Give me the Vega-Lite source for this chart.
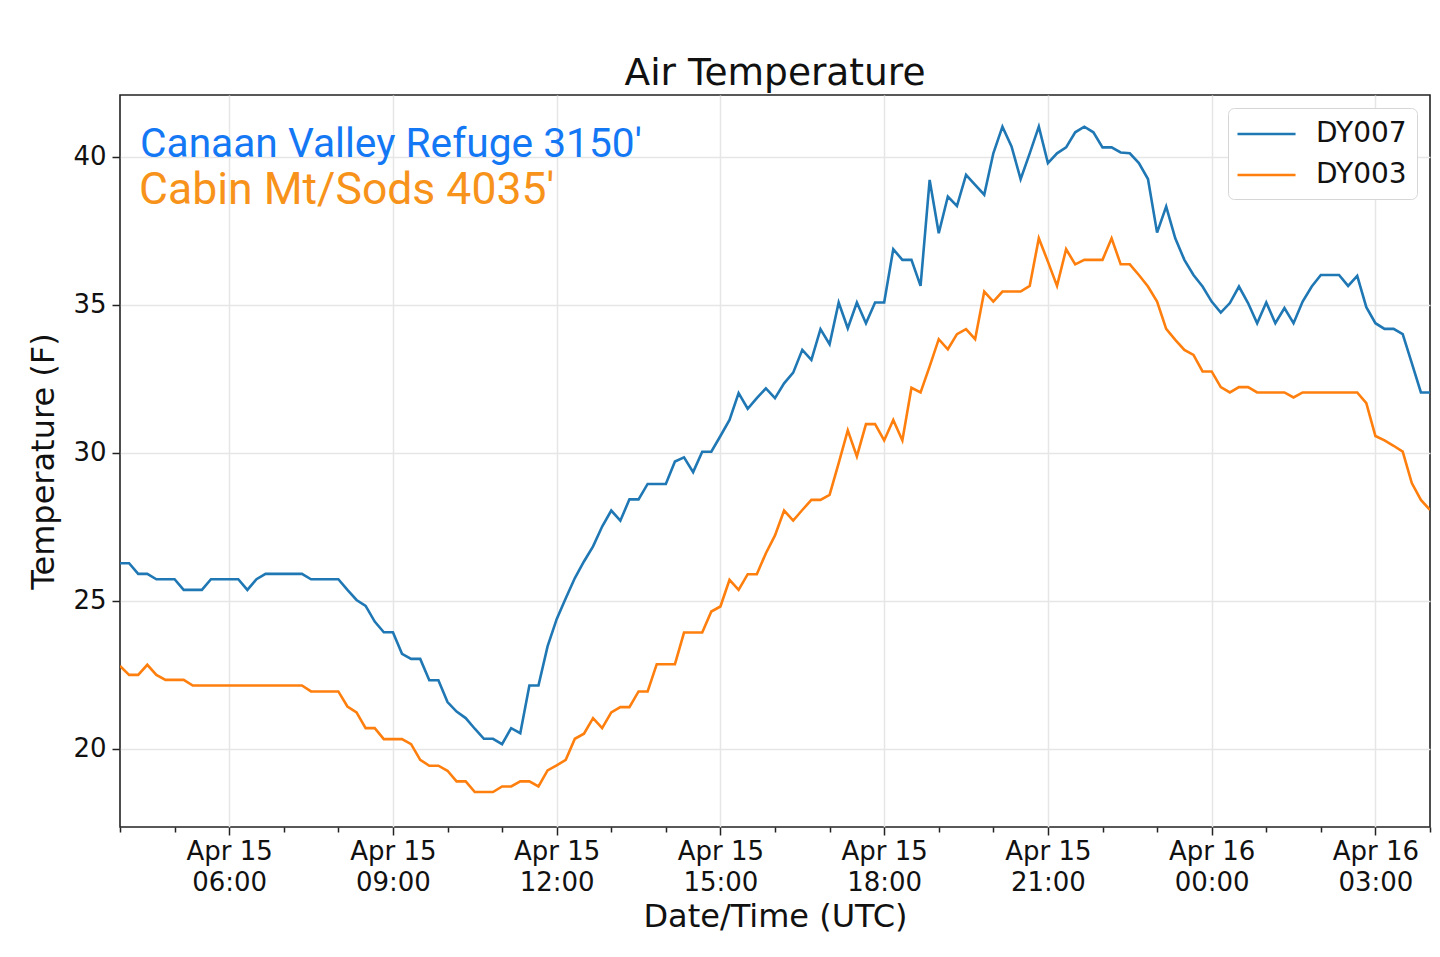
{
  "$schema": "https://vega.github.io/schema/vega-lite/v6.json",
  "width": 1310,
  "height": 732,
  "autosize": {"type": "none"},
  "padding": {"left": 120, "top": 95, "right": 10, "bottom": 130},
  "background": "white",
  "title": {
    "text": "Air Temperature",
    "font": "DejaVu Sans",
    "fontSize": 37.5,
    "fontWeight": "normal",
    "color": "#111111",
    "anchor": "middle",
    "offset": 3
  },
  "config": {
    "view": {"stroke": "#222222", "strokeWidth": 1.6},
    "axis": {
      "domain": false,
      "labelFont": "DejaVu Sans",
      "labelFontSize": 26,
      "labelColor": "#111111",
      "titleFont": "DejaVu Sans",
      "titleFontSize": 32,
      "titleFontWeight": "normal",
      "titleColor": "#111111",
      "tickColor": "#222222",
      "tickWidth": 1.5,
      "gridColor": "#e6e6e6",
      "gridWidth": 1.5
    },
    "legend": {
      "orient": "top-right",
      "offset": 13,
      "padding": 9.5,
      "fillColor": "white",
      "strokeColor": "#d6d6d6",
      "cornerRadius": 6,
      "symbolType": "M-1.1,0L2.77,0",
      "symbolSize": 900,
      "symbolStrokeWidth": 2.6,
      "labelFont": "DejaVu Sans",
      "labelFontSize": 28,
      "labelColor": "#111111",
      "labelOffset": 45.5,
      "rowPadding": 10
    }
  },
  "datasets": {
    "temps": [
      {"t": "2020-04-15T04:00Z", "s": "DY007", "v": 26.27},
      {"t": "2020-04-15T04:10Z", "s": "DY007", "v": 26.27},
      {"t": "2020-04-15T04:20Z", "s": "DY007", "v": 25.91},
      {"t": "2020-04-15T04:30Z", "s": "DY007", "v": 25.91},
      {"t": "2020-04-15T04:40Z", "s": "DY007", "v": 25.73},
      {"t": "2020-04-15T04:50Z", "s": "DY007", "v": 25.73},
      {"t": "2020-04-15T05:00Z", "s": "DY007", "v": 25.73},
      {"t": "2020-04-15T05:10Z", "s": "DY007", "v": 25.37},
      {"t": "2020-04-15T05:20Z", "s": "DY007", "v": 25.37},
      {"t": "2020-04-15T05:30Z", "s": "DY007", "v": 25.37},
      {"t": "2020-04-15T05:40Z", "s": "DY007", "v": 25.73},
      {"t": "2020-04-15T05:50Z", "s": "DY007", "v": 25.73},
      {"t": "2020-04-15T06:00Z", "s": "DY007", "v": 25.73},
      {"t": "2020-04-15T06:10Z", "s": "DY007", "v": 25.73},
      {"t": "2020-04-15T06:20Z", "s": "DY007", "v": 25.37},
      {"t": "2020-04-15T06:30Z", "s": "DY007", "v": 25.73},
      {"t": "2020-04-15T06:40Z", "s": "DY007", "v": 25.91},
      {"t": "2020-04-15T06:50Z", "s": "DY007", "v": 25.91},
      {"t": "2020-04-15T07:00Z", "s": "DY007", "v": 25.91},
      {"t": "2020-04-15T07:10Z", "s": "DY007", "v": 25.91},
      {"t": "2020-04-15T07:20Z", "s": "DY007", "v": 25.91},
      {"t": "2020-04-15T07:30Z", "s": "DY007", "v": 25.73},
      {"t": "2020-04-15T07:40Z", "s": "DY007", "v": 25.73},
      {"t": "2020-04-15T07:50Z", "s": "DY007", "v": 25.73},
      {"t": "2020-04-15T08:00Z", "s": "DY007", "v": 25.73},
      {"t": "2020-04-15T08:10Z", "s": "DY007", "v": 25.37},
      {"t": "2020-04-15T08:20Z", "s": "DY007", "v": 25.03},
      {"t": "2020-04-15T08:30Z", "s": "DY007", "v": 24.83},
      {"t": "2020-04-15T08:40Z", "s": "DY007", "v": 24.30},
      {"t": "2020-04-15T08:50Z", "s": "DY007", "v": 23.94},
      {"t": "2020-04-15T09:00Z", "s": "DY007", "v": 23.94},
      {"t": "2020-04-15T09:10Z", "s": "DY007", "v": 23.21},
      {"t": "2020-04-15T09:20Z", "s": "DY007", "v": 23.04},
      {"t": "2020-04-15T09:30Z", "s": "DY007", "v": 23.04},
      {"t": "2020-04-15T09:40Z", "s": "DY007", "v": 22.32},
      {"t": "2020-04-15T09:50Z", "s": "DY007", "v": 22.32},
      {"t": "2020-04-15T10:00Z", "s": "DY007", "v": 21.58},
      {"t": "2020-04-15T10:10Z", "s": "DY007", "v": 21.26},
      {"t": "2020-04-15T10:20Z", "s": "DY007", "v": 21.04},
      {"t": "2020-04-15T10:30Z", "s": "DY007", "v": 20.68},
      {"t": "2020-04-15T10:40Z", "s": "DY007", "v": 20.34},
      {"t": "2020-04-15T10:50Z", "s": "DY007", "v": 20.34},
      {"t": "2020-04-15T11:00Z", "s": "DY007", "v": 20.16},
      {"t": "2020-04-15T11:10Z", "s": "DY007", "v": 20.70},
      {"t": "2020-04-15T11:20Z", "s": "DY007", "v": 20.53},
      {"t": "2020-04-15T11:30Z", "s": "DY007", "v": 22.14},
      {"t": "2020-04-15T11:40Z", "s": "DY007", "v": 22.14},
      {"t": "2020-04-15T11:50Z", "s": "DY007", "v": 23.46},
      {"t": "2020-04-15T12:00Z", "s": "DY007", "v": 24.38},
      {"t": "2020-04-15T12:10Z", "s": "DY007", "v": 25.09},
      {"t": "2020-04-15T12:20Z", "s": "DY007", "v": 25.77},
      {"t": "2020-04-15T12:30Z", "s": "DY007", "v": 26.33},
      {"t": "2020-04-15T12:40Z", "s": "DY007", "v": 26.84},
      {"t": "2020-04-15T12:50Z", "s": "DY007", "v": 27.51},
      {"t": "2020-04-15T13:00Z", "s": "DY007", "v": 28.05},
      {"t": "2020-04-15T13:10Z", "s": "DY007", "v": 27.71},
      {"t": "2020-04-15T13:20Z", "s": "DY007", "v": 28.43},
      {"t": "2020-04-15T13:30Z", "s": "DY007", "v": 28.43},
      {"t": "2020-04-15T13:40Z", "s": "DY007", "v": 28.95},
      {"t": "2020-04-15T13:50Z", "s": "DY007", "v": 28.95},
      {"t": "2020-04-15T14:00Z", "s": "DY007", "v": 28.95},
      {"t": "2020-04-15T14:10Z", "s": "DY007", "v": 29.71},
      {"t": "2020-04-15T14:20Z", "s": "DY007", "v": 29.85},
      {"t": "2020-04-15T14:30Z", "s": "DY007", "v": 29.35},
      {"t": "2020-04-15T14:40Z", "s": "DY007", "v": 30.04},
      {"t": "2020-04-15T14:50Z", "s": "DY007", "v": 30.04},
      {"t": "2020-04-15T15:00Z", "s": "DY007", "v": 30.57},
      {"t": "2020-04-15T15:10Z", "s": "DY007", "v": 31.11},
      {"t": "2020-04-15T15:20Z", "s": "DY007", "v": 32.02},
      {"t": "2020-04-15T15:30Z", "s": "DY007", "v": 31.49},
      {"t": "2020-04-15T15:40Z", "s": "DY007", "v": 31.85},
      {"t": "2020-04-15T15:50Z", "s": "DY007", "v": 32.18},
      {"t": "2020-04-15T16:00Z", "s": "DY007", "v": 31.85},
      {"t": "2020-04-15T16:10Z", "s": "DY007", "v": 32.35},
      {"t": "2020-04-15T16:20Z", "s": "DY007", "v": 32.71},
      {"t": "2020-04-15T16:30Z", "s": "DY007", "v": 33.48},
      {"t": "2020-04-15T16:40Z", "s": "DY007", "v": 33.14},
      {"t": "2020-04-15T16:50Z", "s": "DY007", "v": 34.18},
      {"t": "2020-04-15T17:00Z", "s": "DY007", "v": 33.67},
      {"t": "2020-04-15T17:10Z", "s": "DY007", "v": 35.08},
      {"t": "2020-04-15T17:20Z", "s": "DY007", "v": 34.21},
      {"t": "2020-04-15T17:30Z", "s": "DY007", "v": 35.08},
      {"t": "2020-04-15T17:40Z", "s": "DY007", "v": 34.38},
      {"t": "2020-04-15T17:50Z", "s": "DY007", "v": 35.08},
      {"t": "2020-04-15T18:00Z", "s": "DY007", "v": 35.08},
      {"t": "2020-04-15T18:10Z", "s": "DY007", "v": 36.88},
      {"t": "2020-04-15T18:20Z", "s": "DY007", "v": 36.52},
      {"t": "2020-04-15T18:30Z", "s": "DY007", "v": 36.52},
      {"t": "2020-04-15T18:40Z", "s": "DY007", "v": 35.64},
      {"t": "2020-04-15T18:50Z", "s": "DY007", "v": 39.22},
      {"t": "2020-04-15T19:00Z", "s": "DY007", "v": 37.42},
      {"t": "2020-04-15T19:10Z", "s": "DY007", "v": 38.66},
      {"t": "2020-04-15T19:20Z", "s": "DY007", "v": 38.34},
      {"t": "2020-04-15T19:30Z", "s": "DY007", "v": 39.39},
      {"t": "2020-04-15T19:40Z", "s": "DY007", "v": 39.05},
      {"t": "2020-04-15T19:50Z", "s": "DY007", "v": 38.72},
      {"t": "2020-04-15T20:00Z", "s": "DY007", "v": 40.12},
      {"t": "2020-04-15T20:10Z", "s": "DY007", "v": 41.02},
      {"t": "2020-04-15T20:20Z", "s": "DY007", "v": 40.35},
      {"t": "2020-04-15T20:30Z", "s": "DY007", "v": 39.25},
      {"t": "2020-04-15T20:40Z", "s": "DY007", "v": 40.12},
      {"t": "2020-04-15T20:50Z", "s": "DY007", "v": 41.02},
      {"t": "2020-04-15T21:00Z", "s": "DY007", "v": 39.79},
      {"t": "2020-04-15T21:10Z", "s": "DY007", "v": 40.12},
      {"t": "2020-04-15T21:20Z", "s": "DY007", "v": 40.32},
      {"t": "2020-04-15T21:30Z", "s": "DY007", "v": 40.83},
      {"t": "2020-04-15T21:40Z", "s": "DY007", "v": 41.02},
      {"t": "2020-04-15T21:50Z", "s": "DY007", "v": 40.83},
      {"t": "2020-04-15T22:00Z", "s": "DY007", "v": 40.32},
      {"t": "2020-04-15T22:10Z", "s": "DY007", "v": 40.32},
      {"t": "2020-04-15T22:20Z", "s": "DY007", "v": 40.15},
      {"t": "2020-04-15T22:30Z", "s": "DY007", "v": 40.12},
      {"t": "2020-04-15T22:40Z", "s": "DY007", "v": 39.79},
      {"t": "2020-04-15T22:50Z", "s": "DY007", "v": 39.25},
      {"t": "2020-04-15T23:00Z", "s": "DY007", "v": 37.44},
      {"t": "2020-04-15T23:10Z", "s": "DY007", "v": 38.32},
      {"t": "2020-04-15T23:20Z", "s": "DY007", "v": 37.25},
      {"t": "2020-04-15T23:30Z", "s": "DY007", "v": 36.52},
      {"t": "2020-04-15T23:40Z", "s": "DY007", "v": 36.01},
      {"t": "2020-04-15T23:50Z", "s": "DY007", "v": 35.62},
      {"t": "2020-04-16T00:00Z", "s": "DY007", "v": 35.11},
      {"t": "2020-04-16T00:10Z", "s": "DY007", "v": 34.74},
      {"t": "2020-04-16T00:20Z", "s": "DY007", "v": 35.06},
      {"t": "2020-04-16T00:30Z", "s": "DY007", "v": 35.62},
      {"t": "2020-04-16T00:40Z", "s": "DY007", "v": 35.06},
      {"t": "2020-04-16T00:50Z", "s": "DY007", "v": 34.38},
      {"t": "2020-04-16T01:00Z", "s": "DY007", "v": 35.08},
      {"t": "2020-04-16T01:10Z", "s": "DY007", "v": 34.38},
      {"t": "2020-04-16T01:20Z", "s": "DY007", "v": 34.89},
      {"t": "2020-04-16T01:30Z", "s": "DY007", "v": 34.38},
      {"t": "2020-04-16T01:40Z", "s": "DY007", "v": 35.11},
      {"t": "2020-04-16T01:50Z", "s": "DY007", "v": 35.62},
      {"t": "2020-04-16T02:00Z", "s": "DY007", "v": 36.01},
      {"t": "2020-04-16T02:10Z", "s": "DY007", "v": 36.01},
      {"t": "2020-04-16T02:20Z", "s": "DY007", "v": 36.01},
      {"t": "2020-04-16T02:30Z", "s": "DY007", "v": 35.64},
      {"t": "2020-04-16T02:40Z", "s": "DY007", "v": 35.98},
      {"t": "2020-04-16T02:50Z", "s": "DY007", "v": 34.92},
      {"t": "2020-04-16T03:00Z", "s": "DY007", "v": 34.38},
      {"t": "2020-04-16T03:10Z", "s": "DY007", "v": 34.19},
      {"t": "2020-04-16T03:20Z", "s": "DY007", "v": 34.19},
      {"t": "2020-04-16T03:30Z", "s": "DY007", "v": 34.01},
      {"t": "2020-04-16T03:40Z", "s": "DY007", "v": 33.03},
      {"t": "2020-04-16T03:50Z", "s": "DY007", "v": 32.04},
      {"t": "2020-04-16T04:00Z", "s": "DY007", "v": 32.04},
      {"t": "2020-04-15T04:00Z", "s": "DY003", "v": 22.80},
      {"t": "2020-04-15T04:10Z", "s": "DY003", "v": 22.50},
      {"t": "2020-04-15T04:20Z", "s": "DY003", "v": 22.50},
      {"t": "2020-04-15T04:30Z", "s": "DY003", "v": 22.84},
      {"t": "2020-04-15T04:40Z", "s": "DY003", "v": 22.50},
      {"t": "2020-04-15T04:50Z", "s": "DY003", "v": 22.33},
      {"t": "2020-04-15T05:00Z", "s": "DY003", "v": 22.33},
      {"t": "2020-04-15T05:10Z", "s": "DY003", "v": 22.33},
      {"t": "2020-04-15T05:20Z", "s": "DY003", "v": 22.14},
      {"t": "2020-04-15T05:30Z", "s": "DY003", "v": 22.14},
      {"t": "2020-04-15T05:40Z", "s": "DY003", "v": 22.14},
      {"t": "2020-04-15T05:50Z", "s": "DY003", "v": 22.14},
      {"t": "2020-04-15T06:00Z", "s": "DY003", "v": 22.14},
      {"t": "2020-04-15T06:10Z", "s": "DY003", "v": 22.14},
      {"t": "2020-04-15T06:20Z", "s": "DY003", "v": 22.14},
      {"t": "2020-04-15T06:30Z", "s": "DY003", "v": 22.14},
      {"t": "2020-04-15T06:40Z", "s": "DY003", "v": 22.14},
      {"t": "2020-04-15T06:50Z", "s": "DY003", "v": 22.14},
      {"t": "2020-04-15T07:00Z", "s": "DY003", "v": 22.14},
      {"t": "2020-04-15T07:10Z", "s": "DY003", "v": 22.14},
      {"t": "2020-04-15T07:20Z", "s": "DY003", "v": 22.14},
      {"t": "2020-04-15T07:30Z", "s": "DY003", "v": 21.94},
      {"t": "2020-04-15T07:40Z", "s": "DY003", "v": 21.94},
      {"t": "2020-04-15T07:50Z", "s": "DY003", "v": 21.94},
      {"t": "2020-04-15T08:00Z", "s": "DY003", "v": 21.94},
      {"t": "2020-04-15T08:10Z", "s": "DY003", "v": 21.43},
      {"t": "2020-04-15T08:20Z", "s": "DY003", "v": 21.23},
      {"t": "2020-04-15T08:30Z", "s": "DY003", "v": 20.70},
      {"t": "2020-04-15T08:40Z", "s": "DY003", "v": 20.70},
      {"t": "2020-04-15T08:50Z", "s": "DY003", "v": 20.33},
      {"t": "2020-04-15T09:00Z", "s": "DY003", "v": 20.33},
      {"t": "2020-04-15T09:10Z", "s": "DY003", "v": 20.33},
      {"t": "2020-04-15T09:20Z", "s": "DY003", "v": 20.16},
      {"t": "2020-04-15T09:30Z", "s": "DY003", "v": 19.63},
      {"t": "2020-04-15T09:40Z", "s": "DY003", "v": 19.43},
      {"t": "2020-04-15T09:50Z", "s": "DY003", "v": 19.43},
      {"t": "2020-04-15T10:00Z", "s": "DY003", "v": 19.26},
      {"t": "2020-04-15T10:10Z", "s": "DY003", "v": 18.90},
      {"t": "2020-04-15T10:20Z", "s": "DY003", "v": 18.90},
      {"t": "2020-04-15T10:30Z", "s": "DY003", "v": 18.54},
      {"t": "2020-04-15T10:40Z", "s": "DY003", "v": 18.54},
      {"t": "2020-04-15T10:50Z", "s": "DY003", "v": 18.54},
      {"t": "2020-04-15T11:00Z", "s": "DY003", "v": 18.73},
      {"t": "2020-04-15T11:10Z", "s": "DY003", "v": 18.73},
      {"t": "2020-04-15T11:20Z", "s": "DY003", "v": 18.90},
      {"t": "2020-04-15T11:30Z", "s": "DY003", "v": 18.90},
      {"t": "2020-04-15T11:40Z", "s": "DY003", "v": 18.73},
      {"t": "2020-04-15T11:50Z", "s": "DY003", "v": 19.27},
      {"t": "2020-04-15T12:00Z", "s": "DY003", "v": 19.44},
      {"t": "2020-04-15T12:10Z", "s": "DY003", "v": 19.63},
      {"t": "2020-04-15T12:20Z", "s": "DY003", "v": 20.34},
      {"t": "2020-04-15T12:30Z", "s": "DY003", "v": 20.51},
      {"t": "2020-04-15T12:40Z", "s": "DY003", "v": 21.04},
      {"t": "2020-04-15T12:50Z", "s": "DY003", "v": 20.70},
      {"t": "2020-04-15T13:00Z", "s": "DY003", "v": 21.23},
      {"t": "2020-04-15T13:10Z", "s": "DY003", "v": 21.41},
      {"t": "2020-04-15T13:20Z", "s": "DY003", "v": 21.41},
      {"t": "2020-04-15T13:30Z", "s": "DY003", "v": 21.94},
      {"t": "2020-04-15T13:40Z", "s": "DY003", "v": 21.94},
      {"t": "2020-04-15T13:50Z", "s": "DY003", "v": 22.86},
      {"t": "2020-04-15T14:00Z", "s": "DY003", "v": 22.86},
      {"t": "2020-04-15T14:10Z", "s": "DY003", "v": 22.86},
      {"t": "2020-04-15T14:20Z", "s": "DY003", "v": 23.93},
      {"t": "2020-04-15T14:30Z", "s": "DY003", "v": 23.93},
      {"t": "2020-04-15T14:40Z", "s": "DY003", "v": 23.93},
      {"t": "2020-04-15T14:50Z", "s": "DY003", "v": 24.64},
      {"t": "2020-04-15T15:00Z", "s": "DY003", "v": 24.81},
      {"t": "2020-04-15T15:10Z", "s": "DY003", "v": 25.71},
      {"t": "2020-04-15T15:20Z", "s": "DY003", "v": 25.37},
      {"t": "2020-04-15T15:30Z", "s": "DY003", "v": 25.90},
      {"t": "2020-04-15T15:40Z", "s": "DY003", "v": 25.90},
      {"t": "2020-04-15T15:50Z", "s": "DY003", "v": 26.61},
      {"t": "2020-04-15T16:00Z", "s": "DY003", "v": 27.21},
      {"t": "2020-04-15T16:10Z", "s": "DY003", "v": 28.05},
      {"t": "2020-04-15T16:20Z", "s": "DY003", "v": 27.71},
      {"t": "2020-04-15T16:30Z", "s": "DY003", "v": 28.07},
      {"t": "2020-04-15T16:40Z", "s": "DY003", "v": 28.41},
      {"t": "2020-04-15T16:50Z", "s": "DY003", "v": 28.41},
      {"t": "2020-04-15T17:00Z", "s": "DY003", "v": 28.58},
      {"t": "2020-04-15T17:10Z", "s": "DY003", "v": 29.65},
      {"t": "2020-04-15T17:20Z", "s": "DY003", "v": 30.76},
      {"t": "2020-04-15T17:30Z", "s": "DY003", "v": 29.88},
      {"t": "2020-04-15T17:40Z", "s": "DY003", "v": 30.97},
      {"t": "2020-04-15T17:50Z", "s": "DY003", "v": 30.97},
      {"t": "2020-04-15T18:00Z", "s": "DY003", "v": 30.42},
      {"t": "2020-04-15T18:10Z", "s": "DY003", "v": 31.11},
      {"t": "2020-04-15T18:20Z", "s": "DY003", "v": 30.42},
      {"t": "2020-04-15T18:30Z", "s": "DY003", "v": 32.20},
      {"t": "2020-04-15T18:40Z", "s": "DY003", "v": 32.04},
      {"t": "2020-04-15T18:50Z", "s": "DY003", "v": 32.92},
      {"t": "2020-04-15T19:00Z", "s": "DY003", "v": 33.84},
      {"t": "2020-04-15T19:10Z", "s": "DY003", "v": 33.50},
      {"t": "2020-04-15T19:20Z", "s": "DY003", "v": 34.01},
      {"t": "2020-04-15T19:30Z", "s": "DY003", "v": 34.18},
      {"t": "2020-04-15T19:40Z", "s": "DY003", "v": 33.84},
      {"t": "2020-04-15T19:50Z", "s": "DY003", "v": 35.45},
      {"t": "2020-04-15T20:00Z", "s": "DY003", "v": 35.11},
      {"t": "2020-04-15T20:10Z", "s": "DY003", "v": 35.45},
      {"t": "2020-04-15T20:20Z", "s": "DY003", "v": 35.45},
      {"t": "2020-04-15T20:30Z", "s": "DY003", "v": 35.45},
      {"t": "2020-04-15T20:40Z", "s": "DY003", "v": 35.64},
      {"t": "2020-04-15T20:50Z", "s": "DY003", "v": 37.25},
      {"t": "2020-04-15T21:00Z", "s": "DY003", "v": 36.46},
      {"t": "2020-04-15T21:10Z", "s": "DY003", "v": 35.64},
      {"t": "2020-04-15T21:20Z", "s": "DY003", "v": 36.88},
      {"t": "2020-04-15T21:30Z", "s": "DY003", "v": 36.37},
      {"t": "2020-04-15T21:40Z", "s": "DY003", "v": 36.52},
      {"t": "2020-04-15T21:50Z", "s": "DY003", "v": 36.52},
      {"t": "2020-04-15T22:00Z", "s": "DY003", "v": 36.52},
      {"t": "2020-04-15T22:10Z", "s": "DY003", "v": 37.25},
      {"t": "2020-04-15T22:20Z", "s": "DY003", "v": 36.37},
      {"t": "2020-04-15T22:30Z", "s": "DY003", "v": 36.37},
      {"t": "2020-04-15T22:40Z", "s": "DY003", "v": 36.01},
      {"t": "2020-04-15T22:50Z", "s": "DY003", "v": 35.62},
      {"t": "2020-04-15T23:00Z", "s": "DY003", "v": 35.11},
      {"t": "2020-04-15T23:10Z", "s": "DY003", "v": 34.19},
      {"t": "2020-04-15T23:20Z", "s": "DY003", "v": 33.82},
      {"t": "2020-04-15T23:30Z", "s": "DY003", "v": 33.48},
      {"t": "2020-04-15T23:40Z", "s": "DY003", "v": 33.31},
      {"t": "2020-04-15T23:50Z", "s": "DY003", "v": 32.75},
      {"t": "2020-04-16T00:00Z", "s": "DY003", "v": 32.75},
      {"t": "2020-04-16T00:10Z", "s": "DY003", "v": 32.22},
      {"t": "2020-04-16T00:20Z", "s": "DY003", "v": 32.04},
      {"t": "2020-04-16T00:30Z", "s": "DY003", "v": 32.22},
      {"t": "2020-04-16T00:40Z", "s": "DY003", "v": 32.22},
      {"t": "2020-04-16T00:50Z", "s": "DY003", "v": 32.04},
      {"t": "2020-04-16T01:00Z", "s": "DY003", "v": 32.04},
      {"t": "2020-04-16T01:10Z", "s": "DY003", "v": 32.04},
      {"t": "2020-04-16T01:20Z", "s": "DY003", "v": 32.04},
      {"t": "2020-04-16T01:30Z", "s": "DY003", "v": 31.87},
      {"t": "2020-04-16T01:40Z", "s": "DY003", "v": 32.04},
      {"t": "2020-04-16T01:50Z", "s": "DY003", "v": 32.04},
      {"t": "2020-04-16T02:00Z", "s": "DY003", "v": 32.04},
      {"t": "2020-04-16T02:10Z", "s": "DY003", "v": 32.04},
      {"t": "2020-04-16T02:20Z", "s": "DY003", "v": 32.04},
      {"t": "2020-04-16T02:30Z", "s": "DY003", "v": 32.04},
      {"t": "2020-04-16T02:40Z", "s": "DY003", "v": 32.04},
      {"t": "2020-04-16T02:50Z", "s": "DY003", "v": 31.68},
      {"t": "2020-04-16T03:00Z", "s": "DY003", "v": 30.57},
      {"t": "2020-04-16T03:10Z", "s": "DY003", "v": 30.42},
      {"t": "2020-04-16T03:20Z", "s": "DY003", "v": 30.24},
      {"t": "2020-04-16T03:30Z", "s": "DY003", "v": 30.04},
      {"t": "2020-04-16T03:40Z", "s": "DY003", "v": 28.98},
      {"t": "2020-04-16T03:50Z", "s": "DY003", "v": 28.41},
      {"t": "2020-04-16T04:00Z", "s": "DY003", "v": 28.07}
    ],
    "notes": [
      {"t": "2020-04-15T04:22Z", "s": "DY007", "v": 40.0, "label": "Canaan Valley Refuge 3150'"},
      {"t": "2020-04-15T04:21Z", "s": "DY003", "v": 38.42, "label": "Cabin Mt/Sods 4035'"}
    ]
  },
  "encoding": {
    "y": {
      "field": "v",
      "type": "quantitative",
      "scale": {"domain": [17.36, 42.09], "nice": false, "zero": false},
      "axis": {
        "title": "Temperature (F)",
        "values": [20, 25, 30, 35, 40],
        "tickSize": 8,
        "labelPadding": 6,
        "titlePadding": 12,
        "grid": true
      }
    }
  },
  "layer": [
    {
      "data": {"name": "temps"},
      "mark": {"type": "line", "strokeWidth": 2.6, "clip": true},
      "encoding": {
        "x": {
          "field": "t",
          "type": "temporal",
          "scale": {
            "type": "utc",
            "domain": [
              {"year": 2020, "month": 4, "date": 15, "hours": 4, "utc": true},
              {"year": 2020, "month": 4, "date": 16, "hours": 4, "utc": true}
            ]
          },
          "axis": {
            "orient": "bottom",
            "title": "Date/Time (UTC)",
            "values": [
              {"year": 2020, "month": 4, "date": 15, "hours": 6, "utc": true},
              {"year": 2020, "month": 4, "date": 15, "hours": 9, "utc": true},
              {"year": 2020, "month": 4, "date": 15, "hours": 12, "utc": true},
              {"year": 2020, "month": 4, "date": 15, "hours": 15, "utc": true},
              {"year": 2020, "month": 4, "date": 15, "hours": 18, "utc": true},
              {"year": 2020, "month": 4, "date": 15, "hours": 21, "utc": true},
              {"year": 2020, "month": 4, "date": 16, "hours": 0, "utc": true},
              {"year": 2020, "month": 4, "date": 16, "hours": 3, "utc": true}
            ],
            "labelExpr": "[utcFormat(datum.value, '%b %d'), utcFormat(datum.value, '%H:%M')]",
            "labelLineHeight": 31,
            "labelPadding": 3,
            "tickSize": 8,
            "grid": true,
            "titlePadding": 6
          }
        },
        "color": {
          "field": "s",
          "type": "nominal",
          "sort": ["DY007", "DY003"],
          "scale": {"domain": ["DY007", "DY003"], "range": ["#1f77b4", "#ff7f0e"]},
          "legend": {"title": null}
        }
      }
    },
    {
      "data": {"name": "notes"},
      "mark": {"type": "text", "align": "left", "baseline": "alphabetic", "font": "Roboto"},
      "encoding": {
        "x": {
          "field": "t",
          "type": "temporal",
          "scale": {
            "type": "utc",
            "domain": [
              {"year": 2020, "month": 4, "date": 15, "hours": 4, "utc": true},
              {"year": 2020, "month": 4, "date": 16, "hours": 4, "utc": true}
            ]
          },
          "axis": {
            "orient": "bottom",
            "offset": 0,
            "title": null,
            "labels": false,
            "grid": false,
            "tickSize": 5,
            "values": [
              {"year": 2020, "month": 4, "date": 15, "hours": 4, "utc": true},
              {"year": 2020, "month": 4, "date": 15, "hours": 5, "utc": true},
              {"year": 2020, "month": 4, "date": 15, "hours": 7, "utc": true},
              {"year": 2020, "month": 4, "date": 15, "hours": 8, "utc": true},
              {"year": 2020, "month": 4, "date": 15, "hours": 10, "utc": true},
              {"year": 2020, "month": 4, "date": 15, "hours": 11, "utc": true},
              {"year": 2020, "month": 4, "date": 15, "hours": 13, "utc": true},
              {"year": 2020, "month": 4, "date": 15, "hours": 14, "utc": true},
              {"year": 2020, "month": 4, "date": 15, "hours": 16, "utc": true},
              {"year": 2020, "month": 4, "date": 15, "hours": 17, "utc": true},
              {"year": 2020, "month": 4, "date": 15, "hours": 19, "utc": true},
              {"year": 2020, "month": 4, "date": 15, "hours": 20, "utc": true},
              {"year": 2020, "month": 4, "date": 15, "hours": 22, "utc": true},
              {"year": 2020, "month": 4, "date": 15, "hours": 23, "utc": true},
              {"year": 2020, "month": 4, "date": 16, "hours": 1, "utc": true},
              {"year": 2020, "month": 4, "date": 16, "hours": 2, "utc": true},
              {"year": 2020, "month": 4, "date": 16, "hours": 4, "utc": true}
            ]
          }
        },
        "text": {"field": "label"},
        "color": {
          "field": "s",
          "type": "nominal",
          "scale": {"domain": ["DY007", "DY003"], "range": ["#1478f5", "#f7931a"]},
          "legend": null
        },
        "size": {
          "field": "s",
          "type": "nominal",
          "scale": {"domain": ["DY007", "DY003"], "range": [40.7, 44.5]},
          "legend": null
        }
      }
    }
  ],
  "resolve": {"scale": {"color": "independent", "size": "independent"}, "axis": {"x": "independent"}}
}
